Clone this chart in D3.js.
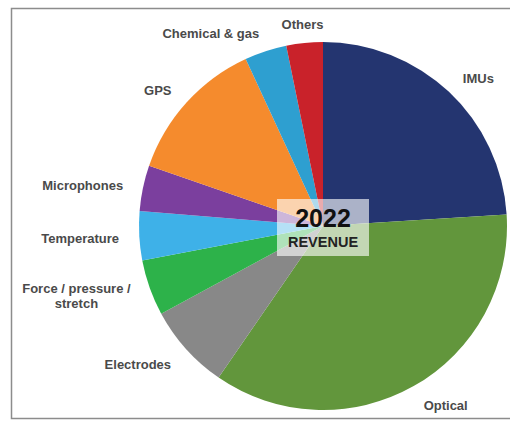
<!DOCTYPE html>
<html>
<head>
<meta charset="utf-8">
<script src="https://cdn.jsdelivr.net/npm/d3@7"></script>
<style>
    html, body { margin: 0; padding: 0; background: #fff; }
    svg { display: block; }
    .label { font-family: "Liberation Sans", Arial, sans-serif; font-weight: bold; font-size: 13px; fill: #4a4a4a; }
</style>
</head>
<body>
<div id="chart"></div>
<script>
// revenue share 2022 (percent)
const categories = ['IMUs', 'Optical', 'Electrodes', 'Force / pressure / stretch', 'Temperature', 'Microphones', 'GPS', 'Chemical & gas', 'Others']
const shares = [24, 35.6, 7.5, 4.9, 4.3, 4, 12.8, 3.7, 3.2]
const colours = ['#243570', '#62963c', '#888888', '#2db24a', '#3eb1e8', '#7b3f9e', '#f58b2d', '#2e9fd0', '#c9222a']
const labelLines = [['IMUs'], ['Optical'], ['Electrodes'], ['Force / pressure /', 'stretch'], ['Temperature'], ['Microphones'], ['GPS'], ['Chemical & gas'], ['Others']]
const centreYear = '2022'
const centreText = 'REVENUE'

const width = 510
const height = 421
const cx = 323
const cy = 226
const radius = 184

const data = categories.map((c, i) => ({ name: c, value: shares[i], lines: labelLines[i] }))

const svg = d3.select('#chart')
    .append('svg')
    .attr('width', width)
    .attr('height', height)

// frame round the picture
svg.append('rect')
    .attr('x', 11.5)
    .attr('y', 8.5)
    .attr('width', width)
    .attr('height', 410)
    .attr('fill', 'none')
    .attr('stroke', '#8c8c8c')
    .attr('stroke-width', 1.5)

const graph = svg.append('g')
    .attr('transform', `translate(${cx}, ${cy})`)

const pie = d3.pie()
    .sort(null)
    .value(d => d.value)

const arcs = pie(data)

const arc = d3.arc().innerRadius(0).outerRadius(radius)
const labelArc = d3.arc().innerRadius(radius * 1.11).outerRadius(radius * 1.11)

const colour = d3.scaleOrdinal().domain(categories).range(colours)

graph.selectAll('path')
    .data(arcs)
    .enter()
    .append('path')
        .attr('d', arc)
        .attr('fill', d => colour(d.data.name))

// labels, anchored away from the pie
const labels = graph.selectAll('text.label')
    .data(arcs)
    .enter()
    .append('text')
        .attr('class', 'label')
        .attr('transform', d => `translate(${labelArc.centroid(d)})`)

labels.each(function(d) {
    const el = d3.select(this)
    const mid = (d.startAngle + d.endAngle) / 2
    const s = Math.sin(mid)
    const lineH = 15
    const y0 = 6 - (d.data.lines.length - 1) * lineH / 2
    const tspans = d.data.lines.map((t, i) => el.append('tspan').attr('y', y0 + i * lineH).text(t))
    // several lines are centred on each other; labels near the top sit centred
    const w = d3.max(tspans, t => t.node().getComputedTextLength())
    const xMid = Math.abs(s) < 0.15 ? 0 : (s > 0 ? w / 2 : -w / 2)
    tspans.forEach(t => t.attr('x', xMid).attr('text-anchor', 'middle'))
})

// centre box
const box = graph.append('g')
box.append('rect')
    .attr('x', -46)
    .attr('y', -27)
    .attr('width', 92)
    .attr('height', 57)
    .attr('fill', '#fff')
    .attr('fill-opacity', 0.62)

box.append('text')
    .attr('text-anchor', 'middle')
    .attr('y', 1)
    .style('font-family', '"Liberation Sans", Arial, sans-serif')
    .style('font-weight', 'bold')
    .style('font-size', '25px')
    .style('fill', '#111')
    .text(centreYear)

box.append('text')
    .attr('text-anchor', 'middle')
    .attr('y', 21)
    .style('font-family', '"Liberation Sans", Arial, sans-serif')
    .style('font-weight', 'bold')
    .style('font-size', '14.5px')
    .style('fill', '#222')
    .text(centreText)
</script>
</body>
</html>
